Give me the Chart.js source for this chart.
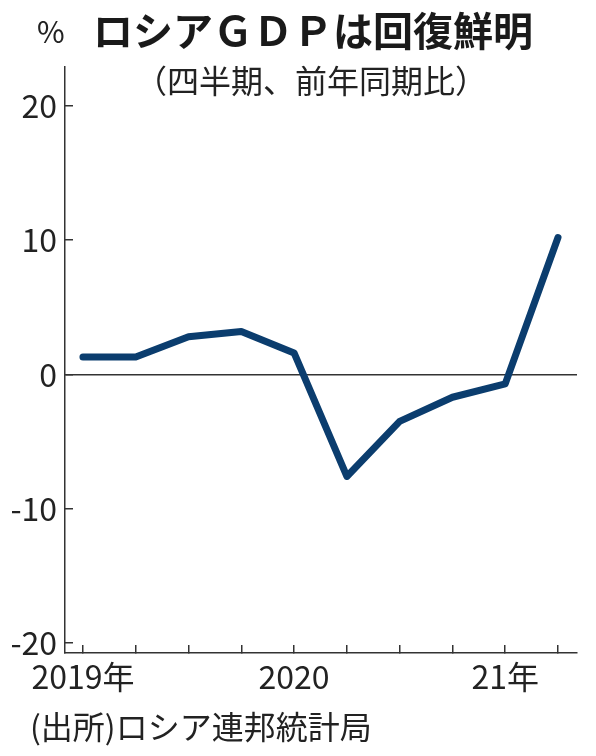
<!DOCTYPE html>
<html>
<head>
<meta charset="utf-8">
<script src="https://cdn.jsdelivr.net/npm/chart.js@4"></script>
<style>
  html, body { margin: 0; padding: 0; background: #fff; }
  #wrap { position: relative; width: 596px; height: 756px; }
  #wrap canvas { position: absolute; left: 0; top: 0; }
  .txt { position: absolute; color: #222; font-family: "Noto Sans CJK JP", sans-serif; line-height: 1; white-space: nowrap; }
  #unit { left: 37px; top: 15px; font-size: 30px; font-family: "Liberation Sans Narrow", "Noto Sans Condensed", "Noto Sans CJK JP", sans-serif; }
  #title { left: 0; width: 626px; text-align: center; top: 9px; font-size: 40px; font-weight: bold; color: #1a1a1a; }
  #sub { left: 0; width: 622px; text-align: center; top: 63px; font-size: 32px; }
  #src { left: 30px; top: 709px; font-size: 32px; }
</style>
</head>
<body>
<div id="wrap">
  <canvas id="chart" width="596" height="756"></canvas>
  <div class="txt" id="unit">%</div>
  <div class="txt" id="title">ロシアＧＤＰは回復鮮明</div>
  <div class="txt" id="sub">（四半期、前年同期比）</div>
  <div class="txt" id="src">(出所)ロシア連邦統計局</div>
</div>
<script>
// 四半期ごとの実質GDP成長率（前年同期比, %）
const quarters = ["2019Q1", "2019Q2", "2019Q3", "2019Q4", "2020Q1", "2020Q2", "2020Q3", "2020Q4", "2021Q1", "2021Q2"];
const gdpGrowth = [1.3, 1.3, 2.8, 3.2, 1.6, -7.6, -3.5, -1.7, -0.7, 10.2];
const yTicks = [-20, -10, 0, 10, 20];
const yearLabels = { "2019Q1": "2019年", "2020Q1": "2020", "2021Q1": "21年" };

const tickFont = { family: "'Liberation Sans Narrow', 'Noto Sans Condensed', 'Noto Sans CJK JP', sans-serif", size: 32 };
const axisColor = "#333";

new Chart(document.getElementById("chart"), {
  type: "line",
  data: {
    datasets: [{
      data: gdpGrowth.map((v, i) => ({ x: i, y: v })),
      borderColor: "#0b3d6e",
      borderWidth: 7,
      borderCapStyle: "round",
      borderJoinStyle: "round",
      pointRadius: 0,
      tension: 0,
      clip: false
    }]
  },
  options: {
    responsive: false,
    animation: false,
    layout: { padding: { left: 0, right: 19, top: 67, bottom: 53 } },
    plugins: { legend: { display: false }, tooltip: { enabled: false } },
    scales: {
      x: {
        type: "linear",
        min: -0.34,
        max: quarters.length - 1 + 0.36,
        afterBuildTicks: s => { s.ticks = quarters.map((q, i) => ({ value: i })); },
        afterFit: s => { s.height = 50; },
        grid: { drawOnChartArea: false, tickLength: -8, tickColor: axisColor, lineWidth: 1.5 },
        border: { color: axisColor, width: 1.5 },
        ticks: {
          autoSkip: false, maxRotation: 0, padding: 13,
          color: "#222", font: tickFont,
          callback: v => yearLabels[quarters[v]] || ""
        }
      },
      y: {
        min: -20.75,
        max: 22.9,
        afterBuildTicks: s => { s.ticks = yTicks.map(v => ({ value: v })); },
        afterFit: s => { s.width = 65; },
        grid: {
          tickLength: -8,
          tickColor: axisColor,
          lineWidth: 1.5,
          color: c => (c.tick && c.tick.value === 0) ? axisColor : "rgba(0,0,0,0)"
        },
        border: { color: axisColor, width: 1.5 },
        ticks: { padding: 16, color: "#222", font: tickFont }
      }
    }
  }
});
</script>
</body>
</html>
